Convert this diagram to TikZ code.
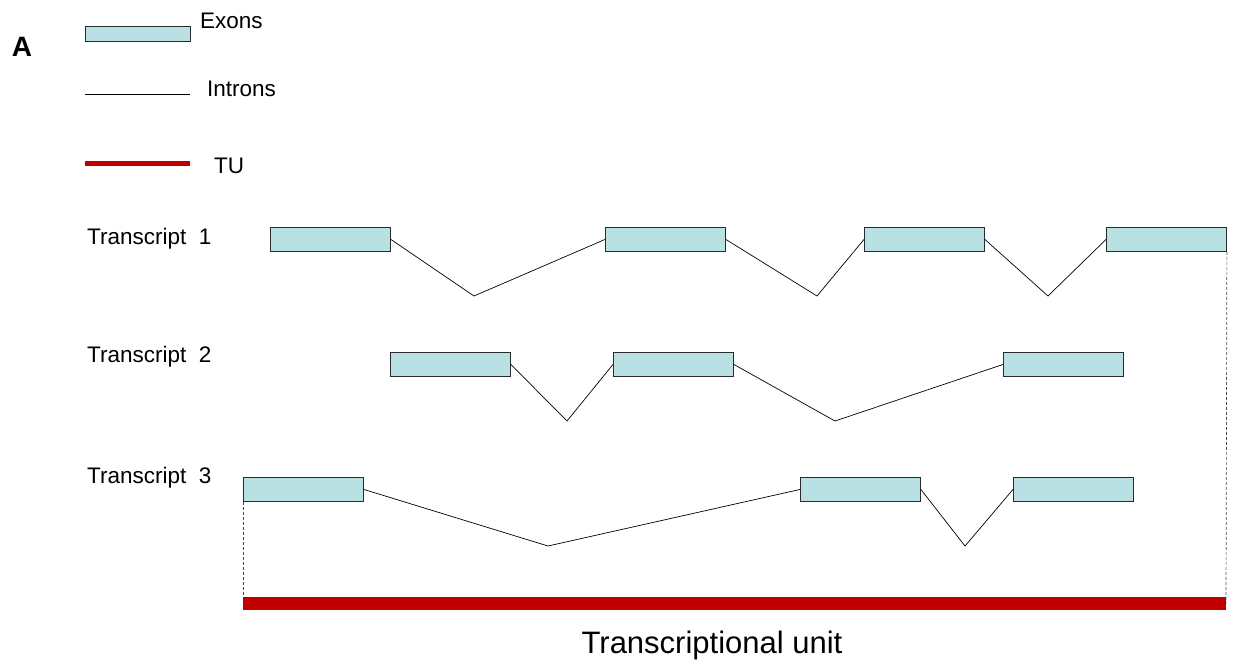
\documentclass[tikz,border=0pt]{standalone}
\usepackage{fontspec}
\setmainfont{Liberation Sans}
\definecolor{exonfill}{HTML}{B9E0E2}
\definecolor{exonline}{HTML}{2A2A2A}
\definecolor{tured}{HTML}{C00000}
\begin{document}
\begin{tikzpicture}[x=1pt,y=-1pt,
  exon/.style={draw=exonline,fill=exonfill,line width=0.9pt,minimum width=120pt,minimum height=24pt,inner sep=0pt,anchor=north west},
  intron/.style={draw=black,line width=0.7pt},
  tubar/.style={draw=tured,line width=13pt},
  guide/.style={draw=black!70,line width=0.7pt,dash pattern=on 3pt off 2pt},
  lbl/.style={font=\fontsize{22.5}{25}\selectfont,anchor=west,inner sep=0pt}]
\useasboundingbox (0,0) rectangle (1235,665);

% legend
\node[font=\fontsize{28}{30}\selectfont\bfseries,inner sep=0pt] (A) at (22,47) {A};
\node[exon,minimum width=105pt,minimum height=15pt] (lexon) at (85,26) {};
\node[lbl] (lexont) at (200,21) {Exons};
\coordinate (li1) at (85,94);
\coordinate (li2) at (190,94);
\draw[intron] (li1) -- (li2);
\node[lbl] (lintront) at (207,89) {Introns};
\coordinate (lt1) at (85,163);
\coordinate (lt2) at (190,163);
\draw[draw=tured,line width=5pt] (lt1) -- (lt2);
\node[lbl] (ltut) at (214,166) {TU};

% transcript 1
\node[lbl] (t1) at (87,239) {Transcript\ \ 1};
\node[exon] (a1) at (270,227) {};
\node[exon] (a2) at (605,227) {};
\node[exon] (a3) at (864,227) {};
\node[exon] (a4) at (1106,227) {};
\coordinate (a12) at (474,296);
\coordinate (a23) at (817,296);
\coordinate (a34) at (1048,296);
\draw[intron] (a1.east) -- (a12) -- (a2.west);
\draw[intron] (a2.east) -- (a23) -- (a3.west);
\draw[intron] (a3.east) -- (a34) -- (a4.west);

% transcript 2
\node[lbl] (t2) at (87,357) {Transcript\ \ 2};
\node[exon] (b1) at (390,352) {};
\node[exon] (b2) at (613,352) {};
\node[exon] (b3) at (1003,352) {};
\coordinate (b12) at (567,421);
\coordinate (b23) at (835,421);
\draw[intron] (b1.east) -- (b12) -- (b2.west);
\draw[intron] (b2.east) -- (b23) -- (b3.west);

% transcript 3
\node[lbl] (t3) at (87,478) {Transcript\ \ 3};
\node[exon] (c1) at (243,477) {};
\node[exon] (c2) at (800,477) {};
\node[exon] (c3) at (1013,477) {};
\coordinate (c12) at (548,546);
\coordinate (c23) at (965,546);
\draw[intron] (c1.east) -- (c12) -- (c2.west);
\draw[intron] (c2.east) -- (c23) -- (c3.west);

% transcriptional unit
\coordinate (tuL) at (243,603.5);
\coordinate (tuR) at (1226,603.5);
\draw[guide] (c1.south west) -- (tuL);
\draw[guide] (a4.south east) -- (tuR);
\draw[tubar] (tuL) -- (tuR);
\node[font=\fontsize{31}{34}\selectfont,inner sep=0pt] (tul) at (712,645) {Transcriptional unit};
\end{tikzpicture}
\end{document}
